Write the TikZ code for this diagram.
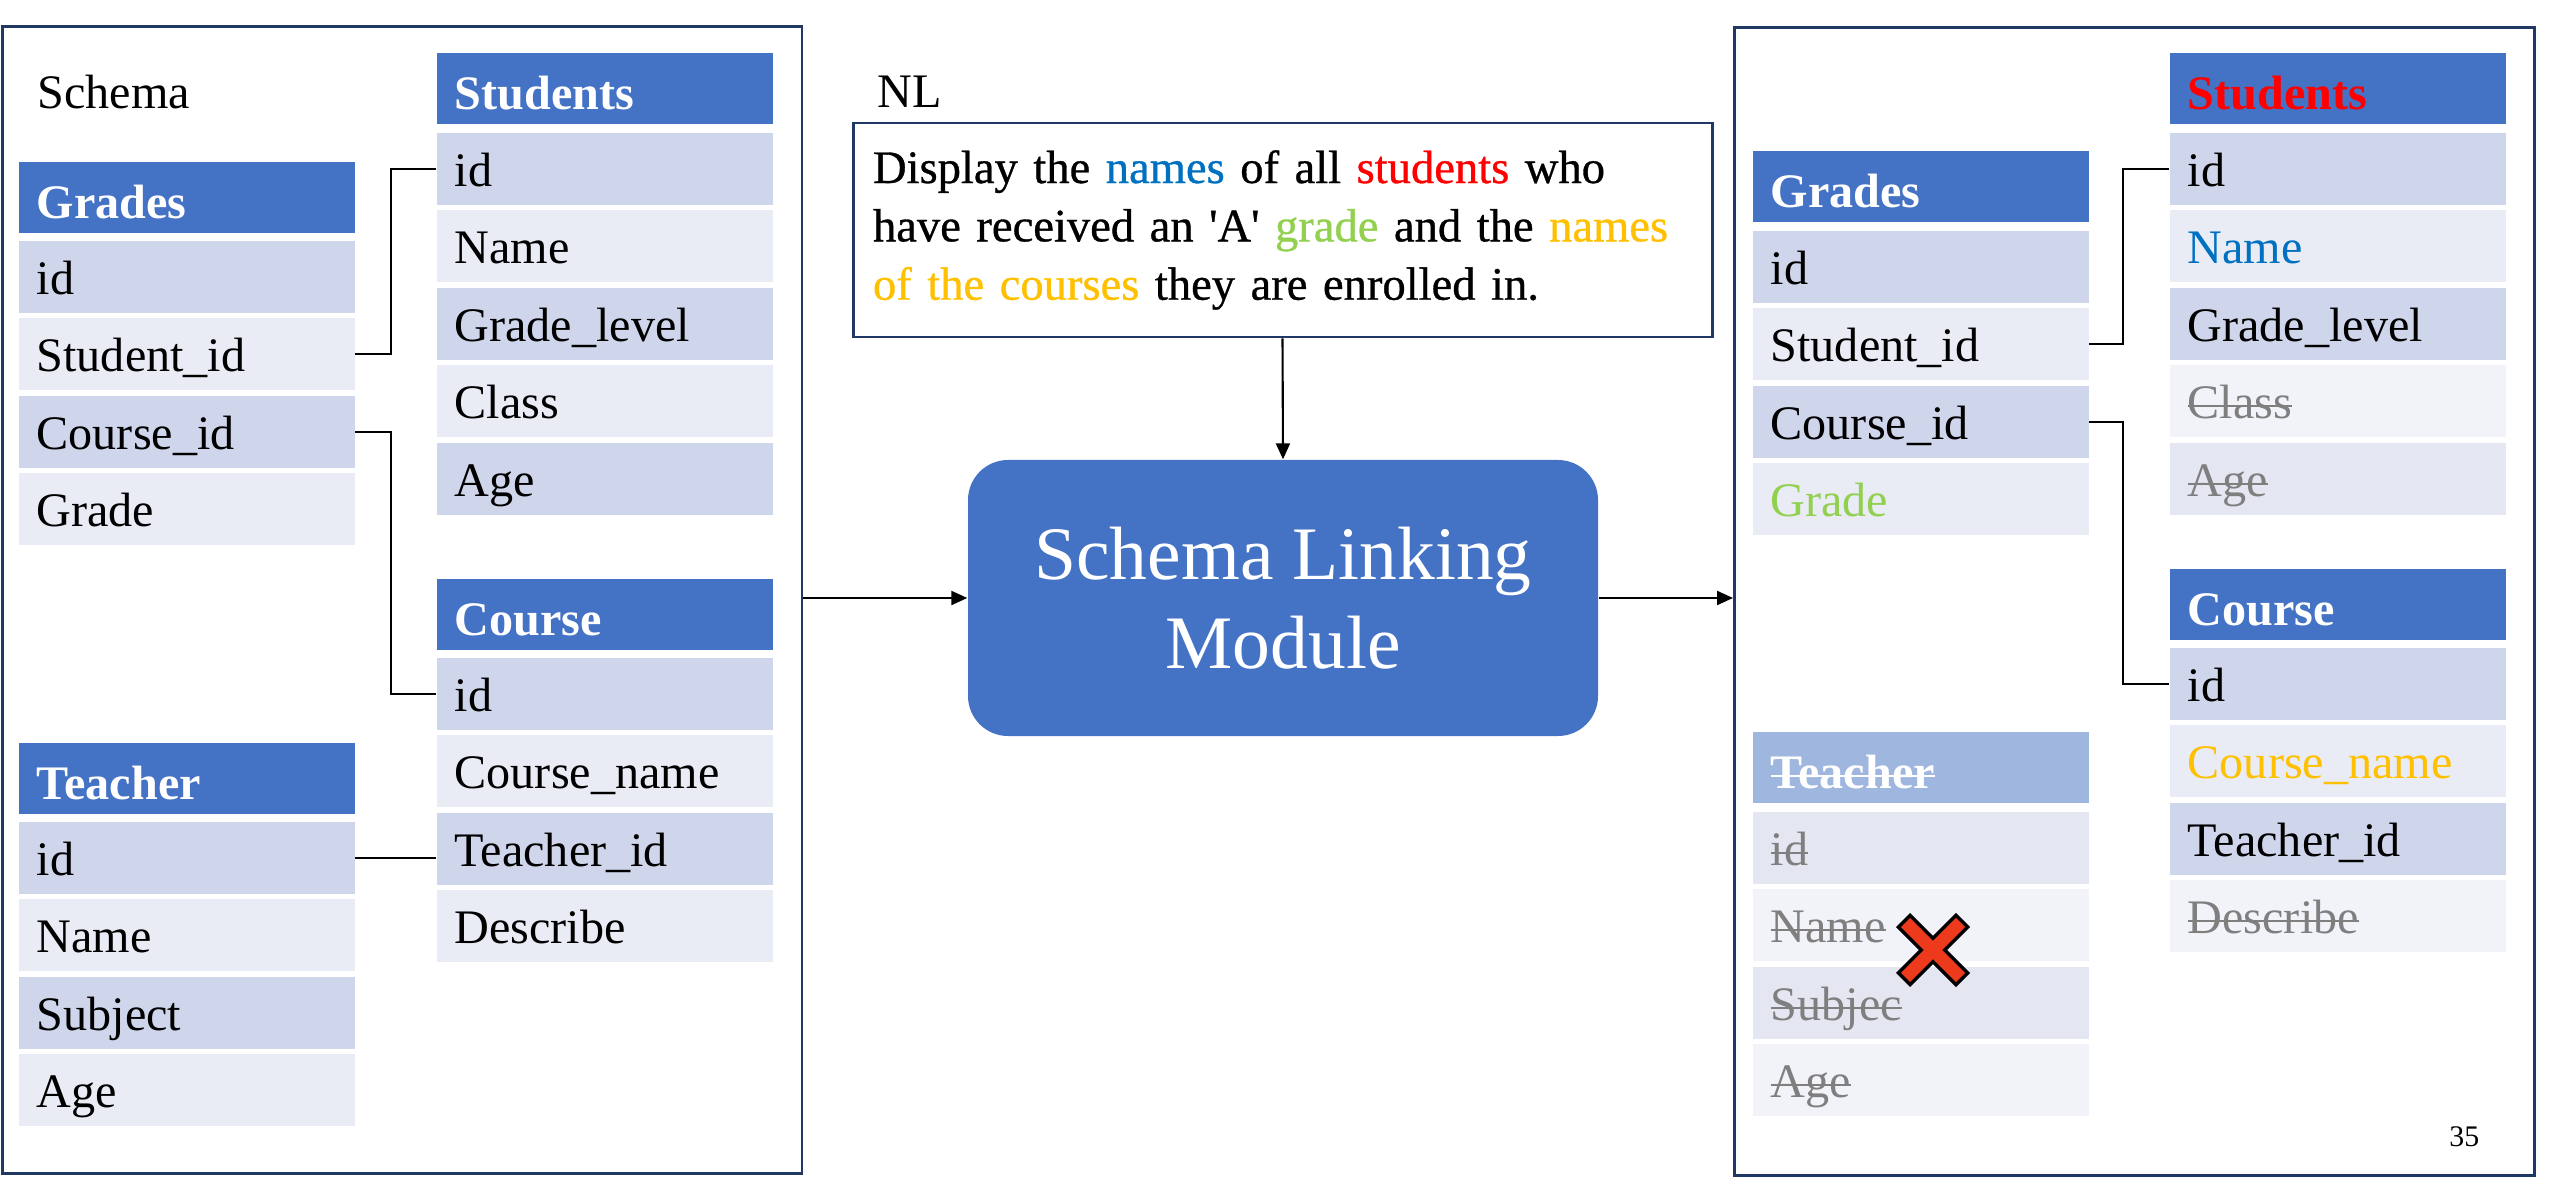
\documentclass[tikz,border=0pt]{standalone}
\usepackage{fontspec}
\setmainfont{Liberation Serif}
\newfontfamily\qfam{Liberation Serif}[FakeBold=0.7]
\usetikzlibrary{arrows.meta,positioning}
\definecolor{hblue}{HTML}{4472C4}
\definecolor{hfade}{HTML}{9FB6DF}
\definecolor{rdark}{HTML}{CFD5EA}
\definecolor{rlight}{HTML}{E9EBF5}
\definecolor{fdark}{HTML}{E4E7F2}
\definecolor{flight}{HTML}{F2F3F9}
\definecolor{gtext}{HTML}{7F7F7F}
\definecolor{navy}{HTML}{1F3864}
\definecolor{tblue}{HTML}{0070C0}
\definecolor{tred}{HTML}{FF0000}
\definecolor{tgreen}{HTML}{92D050}
\definecolor{tyellow}{HTML}{FFC000}
\definecolor{xred}{HTML}{EE3A1C}
\newcommand{\tfont}{\fontsize{13.7}{16.6}\selectfont}
\newcommand{\qfont}{\qfam\fontsize{13.25}{16.6}\selectfont}
\newsavebox{\stbox}
\newcommand{\strikeit}[1]{\sbox{\stbox}{#1}\rlap{\usebox{\stbox}}\rule[0.24em]{\wd\stbox}{0.55pt}}
\newcommand{\strk}[1]{\textcolor{gtext}{\strikeit{#1}}}
\tikzset{
  hdr/.style={fill=hblue, text=white, font=\tfont\bfseries, anchor=north west, minimum width=3.36cm, minimum height=0.71cm, text width=3.0cm, inner xsep=0.18cm, inner ysep=0pt, align=left, text height=0.42cm, text depth=0pt},
  hdrf/.style={hdr, fill=hfade},
  rowd/.style={hdr, fill=rdark, text=black, font=\tfont, minimum height=0.72cm, text height=0.35cm},
  rowl/.style={rowd, fill=rlight},
  rowfd/.style={rowd, fill=fdark},
  rowfl/.style={rowd, fill=flight},
  outer/.style={draw=navy, line width=0.85pt, rectangle, inner sep=0pt, anchor=north west},
  lbl/.style={font=\tfont, inner sep=0pt, anchor=base west},
  conn/.style={line width=0.6pt},
  arr/.style={-{Triangle[length=1.6mm, width=1.4mm]}, line width=0.6pt},
  xmark/.style={line width=2.0mm},
}

\begin{document}
\begin{tikzpicture}
\useasboundingbox (0,0) rectangle (25.52,-11.84);

% frames
\node[outer, minimum width=7.99cm, minimum height=11.47cm] (sbox) at (0.015,-0.25) {};
\node[outer, minimum width=8.0cm, minimum height=11.48cm] (lbox) at (17.33,-0.26) {};

\node[lbl] (schemalbl) at (0.37,-1.09) {Schema};
\node[lbl] (nllbl) at (8.77,-1.08) {NL};
\node[lbl, anchor=base east, font=\fontsize{8.5}{10}\selectfont] (pg) at (24.80,-11.46) {35};

% question and module
\node[draw=navy, line width=0.85pt, minimum width=8.59cm, minimum height=2.14cm, text width=8.19cm, inner xsep=0.2cm, align=left, font=\qfont] (nl) at (12.825,-2.30)
  {Display the \textcolor{tblue}{names} of all \textcolor{tred}{students} who\\
   have received an \textquotesingle A\textquotesingle{} \textcolor{tgreen}{grade} and the \textcolor{tyellow}{names}\\
   \textcolor{tyellow}{of the courses} they are enrolled in.};

\node[fill=hblue, rounded corners=0.4cm, minimum width=6.30cm, minimum height=2.76cm, align=center, text=white, font=\fontsize{21.5}{25.3}\selectfont] (mod) at (12.83,-5.98) {Schema Linking\\Module};

% schema tables
\node[hdr] (gh) at (0.18,-1.61) {Grades};
\foreach \st/\tx [count=\k] in {rowd/id, rowl/Student\_id, rowd/Course\_id, rowl/Grade}
  \node[\st] (g\k) at (0.18,{-2.40-(\k-1)*0.775}) {\tx};

\node[hdr] (sh) at (4.36,-0.52) {Students};
\foreach \st/\tx [count=\k] in {rowd/id, rowl/Name, rowd/Grade\_level, rowl/Class, rowd/Age}
  \node[\st] (s\k) at (4.36,{-1.32-(\k-1)*0.775}) {\tx};

\node[hdr] (ch) at (4.36,-5.78) {Course};
\foreach \st/\tx [count=\k] in {rowd/id, rowl/Course\_name, rowd/Teacher\_id, rowl/Describe}
  \node[\st] (c\k) at (4.36,{-6.57-(\k-1)*0.775}) {\tx};

\node[hdr] (th) at (0.18,-7.42) {Teacher};
\foreach \st/\tx [count=\k] in {rowd/id, rowl/Name, rowd/Subject, rowl/Age}
  \node[\st] (t\k) at (0.18,{-8.21-(\k-1)*0.775}) {\tx};

\draw[conn] (g2.east) -- ++(0.36,0) |- (s1.west);
\draw[conn] (g3.east) -- ++(0.36,0) |- (c1.west);
\draw[conn] (t1.east) -- (t1.east -| c3.west);

% linked tables
\node[hdr] (rgh) at (17.52,-1.50) {Grades};
\foreach \st/\tx [count=\k] in {rowd/id, rowl/Student\_id, rowd/Course\_id, rowl/{\textcolor{tgreen}{Grade}}}
  \node[\st] (rg\k) at (17.52,{-2.30-(\k-1)*0.775}) {\tx};

\node[hdr] (rsh) at (21.69,-0.52) {\textcolor{tred}{Students}};
\foreach \st/\tx [count=\k] in {rowd/id, rowl/{\textcolor{tblue}{Name}}, rowd/Grade\_level, rowfl/{\strk{Class}}, rowfd/{\strk{Age}}}
  \node[\st] (rs\k) at (21.69,{-1.32-(\k-1)*0.775}) {\tx};

\node[hdr] (rch) at (21.69,-5.68) {Course};
\foreach \st/\tx [count=\k] in {rowd/id, rowl/{\textcolor{tyellow}{Course\_name}}, rowd/Teacher\_id, rowfl/{\strk{Describe}}}
  \node[\st] (rc\k) at (21.69,{-6.47-(\k-1)*0.775}) {\tx};

\node[hdrf] (rth) at (17.52,-7.31) {\strikeit{Teacher}};
\foreach \st/\tx [count=\k] in {rowfd/{\strk{id}}, rowfl/{\strk{Name}}, rowfd/{\strk{Subjec}}, rowfl/{\strk{Age}}}
  \node[\st] (rt\k) at (17.52,{-8.11-(\k-1)*0.775}) {\tx};

\draw[conn] (rg2.east) -- ++(0.34,0) |- (rs1.west);
\draw[conn] (rg3.east) -- ++(0.34,0) |- (rc1.west);

% arrows
\draw[arr] (nl.south) -- (mod.north);
\draw[arr] (sbox.east |- mod.west) -- (mod.west);
\draw[arr] (mod.east) -- (mod.east -| lbox.west);

% red cross
\draw[xmark, black] (19.03,-9.20) -- (19.63,-9.80);
\draw[xmark, black] (19.03,-9.80) -- (19.63,-9.20);
\draw[xmark, xred, line width=1.3mm] (19.055,-9.225) -- (19.605,-9.775);
\draw[xmark, xred, line width=1.3mm] (19.055,-9.775) -- (19.605,-9.225);

\end{tikzpicture}
\end{document}
